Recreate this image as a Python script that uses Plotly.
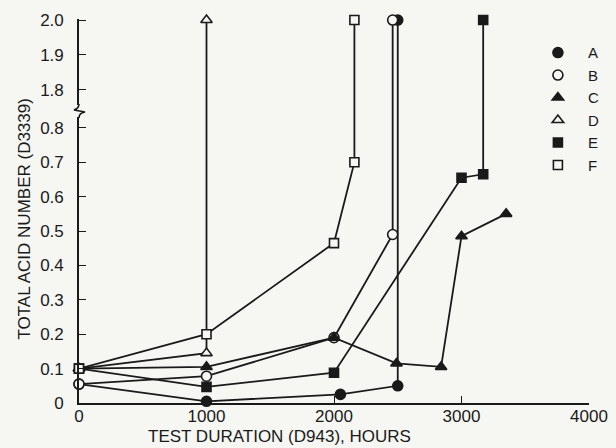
import plotly.graph_objects as go

# ---- data ----
series_names = ["A", "B", "C", "D", "E", "F"]
A_hours = [0, 1000, 2050, 2500, 2500]
A_tan = [0.055, 0.005, 0.025, 0.05, 2.0]
B_hours = [0, 1000, 2000, 2460, 2460]
B_tan = [0.055, 0.078, 0.19, 0.49, 2.0]
C_hours = [0, 1000, 2000, 2490, 2840, 3000, 3350]
C_tan = [0.1, 0.105, 0.19, 0.115, 0.105, 0.485, 0.55]
D_hours = [0, 1000, 1000]
D_tan = [0.1, 0.145, 2.0]
E_hours = [0, 1000, 2000, 3000, 3170, 3170]
E_tan = [0.1, 0.047, 0.088, 0.655, 0.665, 2.0]
F_hours = [0, 1000, 2000, 2160, 2160]
F_tan = [0.1, 0.2, 0.465, 0.70, 2.0]

x_ticks = [0, 1000, 2000, 3000, 4000]
x_ticktext = ["0", "1000", "2000", "3000", "4000"]
y_low_ticks = [0, 0.1, 0.2, 0.3, 0.4, 0.5, 0.6, 0.7, 0.8]
y_low_text = ["0", "0.1", "0.2", "0.3", "0.4", "0.5", "0.6", "0.7", "0.8"]
y_high_ticks = [1.8, 1.9, 2.0]
y_high_text = ["1.8", "1.9", "2.0"]

# ---- styling ----
INK = "#1a1a1a"
BG = "#f6f6f3"
FONT = "Liberation Sans"
LOW_MAX = 0.849
HIGH_MIN = 1.739
SPLIT = 0.7604

styles = {
    "A": dict(symbol="circle", color=INK, size=10),
    "B": dict(symbol="circle", color=BG, size=10),
    "C": dict(symbol="triangle-up", color=INK, size=10),
    "D": dict(symbol="triangle-up", color=BG, size=10),
    "E": dict(symbol="square", color=INK, size=9),
    "F": dict(symbol="square", color=BG, size=9),
}
data = {
    "A": (A_hours, A_tan), "B": (B_hours, B_tan), "C": (C_hours, C_tan),
    "D": (D_hours, D_tan), "E": (E_hours, E_tan), "F": (F_hours, F_tan),
}

fig = go.Figure()

# lines in both axis segments (clipped by each segment)
for name in series_names:
    xs, ys = data[name]
    for ax in ["y", "y2"]:
        fig.add_trace(go.Scatter(x=xs, y=ys, mode="lines", yaxis=ax,
                                 line=dict(color=INK, width=1.8),
                                 showlegend=False, hoverinfo="skip"))

# markers
for name in series_names:
    xs, ys = data[name]
    st = styles[name]
    mk = dict(symbol=st["symbol"], color=st["color"], size=st["size"],
              line=dict(color=INK, width=1.6))
    lx = [x for x, y in zip(xs, ys) if y <= LOW_MAX]
    ly = [y for y in ys if y <= LOW_MAX]
    hx = [x for x, y in zip(xs, ys) if y >= HIGH_MIN]
    hy = [y for y in ys if y >= HIGH_MIN]
    fig.add_trace(go.Scatter(x=lx, y=ly, mode="markers", yaxis="y", name=name,
                             marker=mk, cliponaxis=False, showlegend=True))
    fig.add_trace(go.Scatter(x=hx, y=hy, mode="markers", yaxis="y2", name=name,
                             marker=mk, cliponaxis=False, showlegend=False))

tickfont = dict(family=FONT, size=17, color=INK)
axis_common = dict(showline=True, linecolor=INK, linewidth=1.6, ticks="inside",
                   ticklen=7, tickwidth=1.4, tickcolor=INK, showgrid=False,
                   zeroline=False, tickfont=tickfont, automargin=False)

fig.update_layout(
    width=616, height=448,
    margin=dict(l=79, r=27, t=19, b=45, autoexpand=False),
    paper_bgcolor=BG, plot_bgcolor=BG,
    font=dict(family=FONT, color=INK),
    xaxis=dict(range=[0, 4000], tickvals=x_ticks, ticktext=x_ticktext,
               anchor="y", ticklabelstandoff=-3, **axis_common),
    yaxis=dict(domain=[0, SPLIT], range=[0, LOW_MAX], tickvals=y_low_ticks,
               ticktext=y_low_text, anchor="x", ticklabelstandoff=10,
               **axis_common),
    yaxis2=dict(domain=[SPLIT, 1], range=[HIGH_MIN, 2.003], tickvals=y_high_ticks,
                ticktext=y_high_text, anchor="x", ticklabelstandoff=10,
                **axis_common),
    legend=dict(xref="container", yref="container", x=0.857, y=0.919,
                xanchor="left", yanchor="top",
                font=dict(family=FONT, size=15, color=INK),
                bgcolor="rgba(0,0,0,0)", itemwidth=50, tracegroupgap=0),
    showlegend=True,
    annotations=[
        dict(text="TOTAL ACID NUMBER (D3339)", xref="paper", yref="paper",
             x=-0.106, y=0.48, textangle=-90, showarrow=False,
             xanchor="center", yanchor="middle",
             font=dict(family=FONT, size=17, color=INK)),
        dict(text="TEST DURATION (D943), HOURS", xref="paper", yref="paper",
             x=0.394, y=-0.086, showarrow=False,
             xanchor="center", yanchor="middle",
             font=dict(family=FONT, size=17, color=INK)),
    ],
)

# axis break glyph on the y axis
fig.add_shape(type="path", xref="paper", yref="paper",
              xsizemode="pixel", ysizemode="pixel", xanchor=0, yanchor=SPLIT,
              path="M -3,-6 L 3,-6 L 3,6 L -3,6 Z",
              fillcolor=BG, line=dict(width=0), layer="above")
fig.add_shape(type="path", xref="paper", yref="paper",
              xsizemode="pixel", ysizemode="pixel", xanchor=0, yanchor=SPLIT,
              path="M 0,7 C 0,3 -2,2 -5,1 L 6,-1 C 2,-2 0,-3 0,-7",
              line=dict(color=INK, width=1.6), layer="above")

fig.write_html("out.html", config={"displayModeBar": False},
               post_script="document.body.style.margin='0';"
                           "document.body.style.background='" + BG + "';")
